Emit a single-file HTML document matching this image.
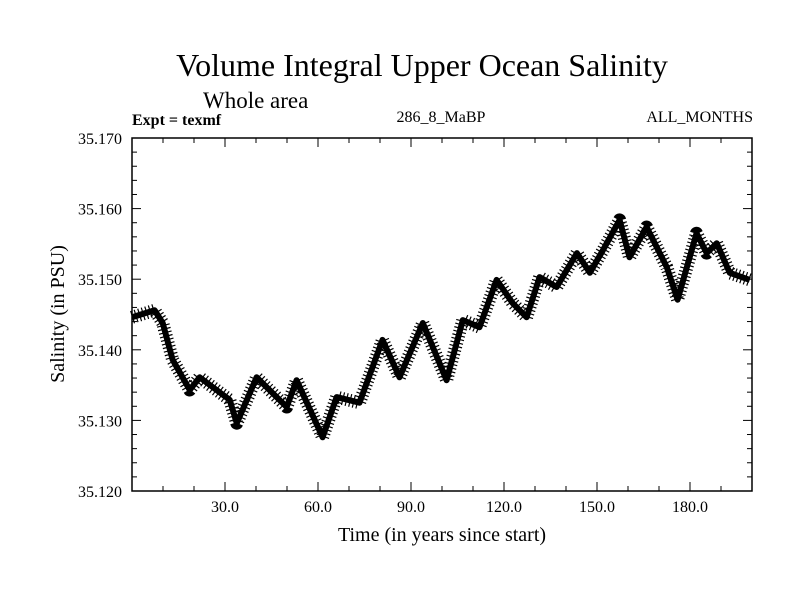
<!DOCTYPE html>
<html><head><meta charset="utf-8"><style>
body{margin:0;background:#fff}
svg text{font-family:"Liberation Serif",serif;fill:#000}
</style></head><body>
<svg id="chart" width="800" height="600" viewBox="0 0 800 600" xmlns="http://www.w3.org/2000/svg">
<rect width="800" height="600" fill="#fff"/>
<text x="422" y="76" font-size="32" text-anchor="middle">Volume Integral Upper Ocean Salinity</text>
<text x="203" y="108" font-size="23">Whole area</text>
<text x="132" y="125" font-size="16" font-weight="bold">Expt = texmf</text>
<text x="441" y="122" font-size="16" text-anchor="middle">286_8_MaBP</text>
<text x="753" y="122" font-size="16" text-anchor="end">ALL_MONTHS</text>
<text transform="translate(64,314) rotate(-90)" font-size="20" text-anchor="middle">Salinity (in PSU)</text>
<text x="442" y="541" font-size="20" text-anchor="middle">Time (in years since start)</text>
<g id="axes"></g>
<g id="series"></g>
<rect x="132" y="138" width="620" height="353" fill="none" stroke="#000" stroke-width="1.5"/>
</svg>
<script>
const years=[0,7.3,9.9,13.1,18.6,21.8,31.5,33.8,40.2,49.9,53.1,61.5,66.0,73.4,80.8,86.3,93.8,101.5,106.7,112.1,117.6,122.8,127.3,131.5,137.0,143.5,147.7,151.9,157.3,160.5,166.0,172.5,176.0,182.1,185.4,188.6,192.8,199.3];
const salinity=[35.1446,35.1456,35.1438,35.1386,35.1343,35.1361,35.1329,35.1296,35.1361,35.1319,35.1357,35.1276,35.1333,35.1325,35.1414,35.1361,35.1438,35.1357,35.1442,35.1432,35.1499,35.1466,35.1446,35.1503,35.1489,35.1537,35.1509,35.1541,35.1584,35.1531,35.1574,35.1517,35.1471,35.1565,35.1537,35.1551,35.1509,35.1499];
const xTickValues=[30,60,90,120,150,180];
const xTickLabels=["30.0","60.0","90.0","120.0","150.0","180.0"];
const yTickValues=[35.12,35.13,35.14,35.15,35.16,35.17];
const yTickLabels=["35.120","35.130","35.140","35.150","35.160","35.170"];
const NS="http://www.w3.org/2000/svg";
const X0=132,X1=752,Y0=491,Y1=138;
function sx(v){return X0+(v-0)/(200-0)*(X1-X0);}
function sy(v){return Y0-(v-35.12)/(0.05)*(Y0-Y1);}
function mk(t,a,p){const e=document.createElementNS(NS,t);for(const k in a)e.setAttribute(k,a[k]);p.appendChild(e);return e;}
const axes=document.getElementById('axes');
for(let v=10;v<200;v+=10){const major=v%30===0;const L=major?9:5;const x=sx(v);
const t1=mk('line',{x1:x,x2:x,y1:Y0,y2:Y0-L,stroke:'#000'},axes);


const t2=mk('line',{x1:x,x2:x,y1:Y1,y2:Y1+L,stroke:'#000'},axes);

}
xTickValues.forEach((v,i)=>{const t=mk('text',{x:sx(v),y:512,'font-size':16,'text-anchor':'middle'},axes);t.textContent=xTickLabels[i];

});
for(let k=1;k<25;k++){const v=35.12+k*0.002;const major=k%5===0;const L=major?9:5;const y=sy(v);
const t1=mk('line',{x1:X0,x2:X0+L,y1:y,y2:y,stroke:'#000'},axes);


const t2=mk('line',{x1:X1,x2:X1-L,y1:y,y2:y,stroke:'#000'},axes);

}
yTickValues.forEach((v,i)=>{const t=mk('text',{x:122,y:sy(v)+6,'font-size':16,'text-anchor':'end'},axes);t.textContent=yTickLabels[i];

});
const ser=document.getElementById('series');
const pts=years.map((y,i)=>sx(y).toFixed(1)+','+sy(salinity[i]).toFixed(1)).join(' ');
const line2=mk('polyline',{points:pts,fill:'none',stroke:'#000','stroke-width':13,'stroke-dasharray':'1.2 2.5','stroke-linejoin':'round'},ser);


const line=mk('polyline',{points:pts,fill:'none',stroke:'#000','stroke-width':6,'stroke-linejoin':'round','stroke-linecap':'butt'},ser);


</script>
</body></html>
